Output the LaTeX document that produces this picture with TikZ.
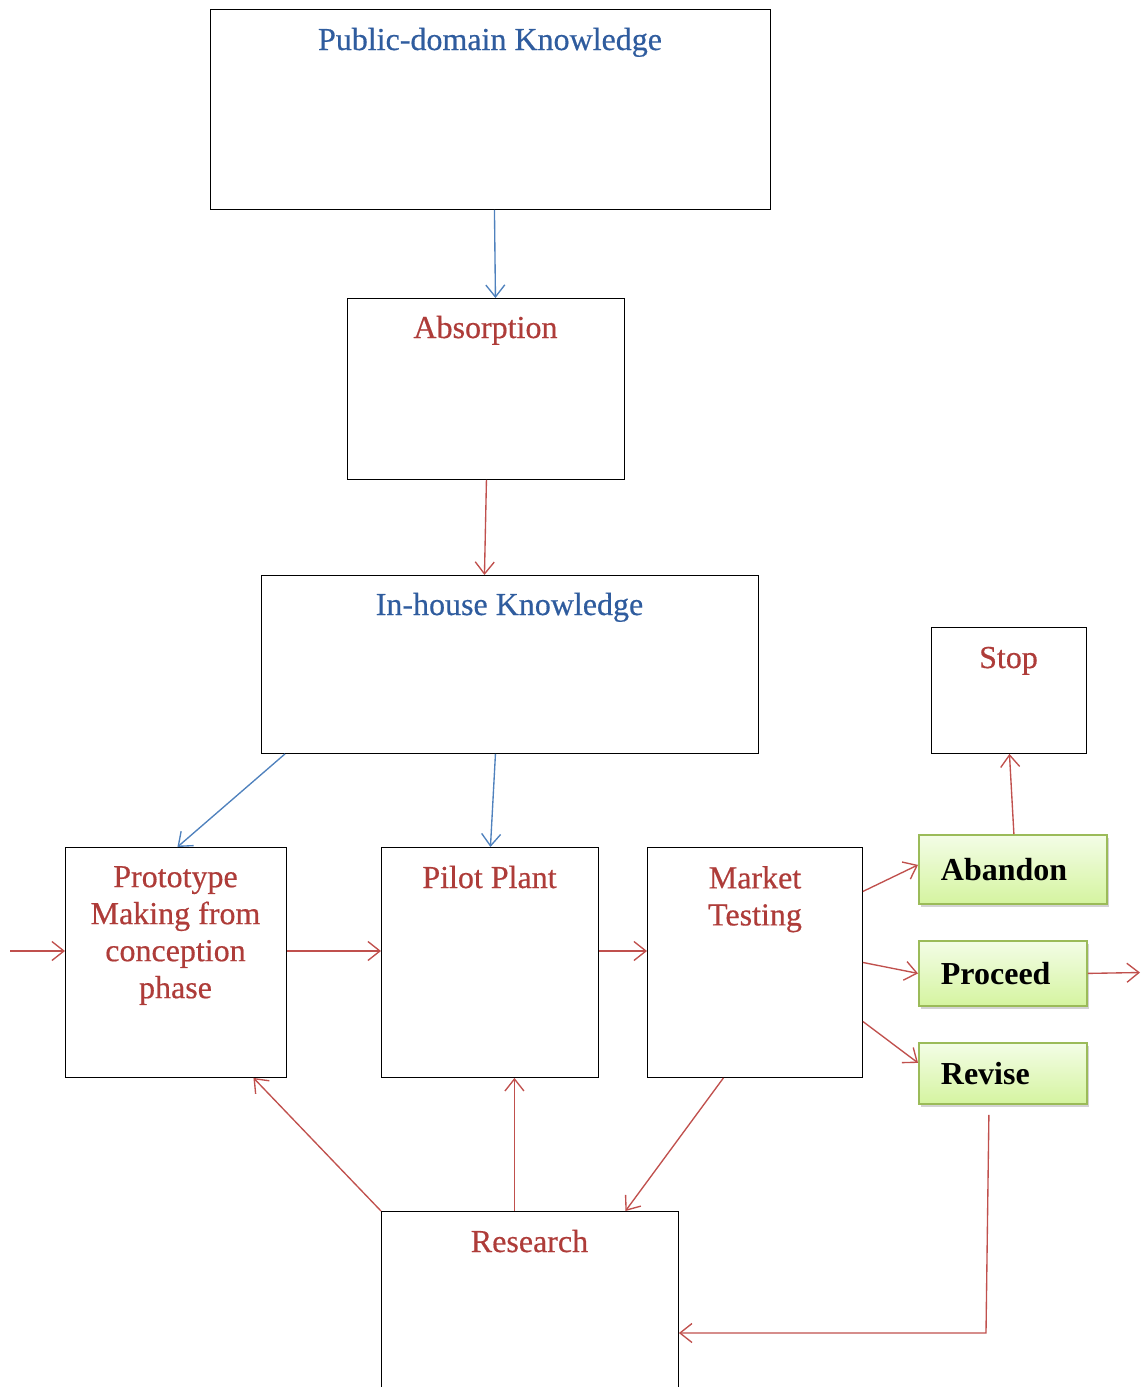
\documentclass[tikz,border=0pt]{standalone}
\usepackage{fontspec}
\setmainfont{Liberation Serif}
\newfontfamily\titlefont[FakeBold=0.5]{Liberation Serif}
\usetikzlibrary{arrows.meta,shadows}

\definecolor{linkblue}{HTML}{4F81BD}
\definecolor{linkred}{HTML}{C0504D}
\definecolor{titleblue}{HTML}{2F5C9E}
\definecolor{titlered}{HTML}{AE3C39}
\definecolor{greenedge}{HTML}{9BBB59}
\definecolor{greentop}{HTML}{F3FDE6}
\definecolor{greenbot}{HTML}{D5F4A0}

\tikzset{
  box/.style={draw=black, line width=0.9pt, inner sep=0pt, anchor=north west},
  choice/.style={draw=greenedge, line width=1.8pt, anchor=north west,
    top color=greentop, bottom color=greenbot,
    drop shadow={shadow xshift=2pt, shadow yshift=-3pt, opacity=0.35},
    inner xsep=22pt, inner ysep=0pt, align=left,
    font=\fontsize{32}{36}\selectfont\bfseries, text=black},
  bluetitle/.style={text=titleblue, inner sep=0pt, font=\fontsize{32}{37}\titlefont},
  redtitle/.style={text=titlered, inner sep=0pt, align=center, font=\fontsize{32}{37}\titlefont},
  flow/.style={line width=1.35pt, -{Straight Barb[length=12pt,width=19pt]}},
  blueflow/.style={flow, draw=linkblue},
  redflow/.style={flow, draw=linkred},
}

\begin{document}
\begin{tikzpicture}[x=1pt, y=-1pt]
\useasboundingbox (0,0) rectangle (1145,1387);
\clip (0,0) rectangle (1145,1387);

% ---- boxes ----
\node[box, minimum width=560pt, minimum height=200pt] (pub) at (210,9) {};
\node[box, minimum width=277pt, minimum height=181pt] (abs) at (347,298) {};
\node[box, minimum width=497pt, minimum height=178pt] (inh) at (261,575) {};
\node[box, minimum width=155pt, minimum height=126pt] (stop) at (931,627) {};
\node[box, minimum width=221pt, minimum height=230pt] (proto) at (65,847) {};
\node[box, minimum width=217pt, minimum height=230pt] (pilot) at (381,847) {};
\node[box, minimum width=215pt, minimum height=230pt] (mkt) at (647,847) {};
\node[box, minimum width=297pt, minimum height=220pt] (res) at (381,1211) {};

% ---- box titles ----
\node[bluetitle, anchor=base] (pubT) at (490,50) {Public-domain Knowledge};
\node[redtitle, anchor=base] (absT) at (485.5,338) {Absorption};
\node[bluetitle, anchor=base] (inhT) at (509.5,615) {In-house Knowledge};
\node[redtitle, anchor=base] (stopT) at (1008.5,668) {Stop};
\node[redtitle, anchor=north] (protoT) at (175.5,866) {Prototype\\Making from\\conception\\phase};
\node[redtitle, anchor=base] (pilotT) at (489.5,888) {Pilot Plant};
\node[redtitle, anchor=north] (mktT) at (755,866) {Market\\Testing};
\node[redtitle, anchor=base] (resT) at (529.5,1252) {Research};

% ---- decision boxes ----
\node[choice, minimum width=188pt, minimum height=69pt, text width=144pt] (aband) at (918,834) {Abandon};
\node[choice, minimum width=168pt, minimum height=65pt, text width=124pt] (proc) at (918,940) {Proceed};
\node[choice, minimum width=168pt, minimum height=61pt, text width=124pt] (rev) at (918,1042) {Revise};

% ---- free ends ----
\coordinate (entry) at (10,951);
\coordinate (exit) at (1140,972.5);
\coordinate (bend) at (986,1333);

% ---- knowledge flow ----
\draw[blueflow] ([xshift=4pt]pub.south) -- ([xshift=9.5pt]abs.north);
\draw[redflow] ([xshift=0.5pt]abs.south) -- ([xshift=-25.5pt]inh.north);
\draw[blueflow] ([xshift=24pt]inh.south west) -- ([xshift=1.5pt]proto.north);
\draw[blueflow] ([xshift=-14.5pt]inh.south) -- ([xshift=0.5pt]pilot.north);

% ---- development chain ----
\draw[redflow] (entry) -- (entry -| proto.west);
\draw[redflow] (entry -| proto.east) -- (entry -| pilot.west);
\draw[redflow] (entry -| pilot.east) -- (entry -| mkt.west);

% ---- market outcomes ----
\draw[redflow] ([yshift=71pt]mkt.east) -- ([yshift=4.5pt]aband.west);
\draw[redflow] (mkt.east) -- (proc.west);
\draw[redflow] ([yshift=-59pt]mkt.east) -- ([yshift=10.5pt]rev.west);
\draw[redflow] ([xshift=1pt]aband.north) -- ([xshift=0.5pt]stop.south);
\draw[redflow] (proc.east) -- (exit);
\draw[redflow] ([xshift=-14pt,yshift=-10pt]rev.south) -- (bend) -- (bend -| res.east);

% ---- research feedback ----
\draw[redflow] (res.north west) -- ([xshift=77.5pt]proto.south);
\draw[redflow] ([xshift=-15.5pt]res.north) -- ([xshift=24.5pt]pilot.south);
\draw[redflow] ([xshift=-31.5pt]mkt.south) -- ([xshift=95.5pt]res.north);
\end{tikzpicture}
\end{document}
